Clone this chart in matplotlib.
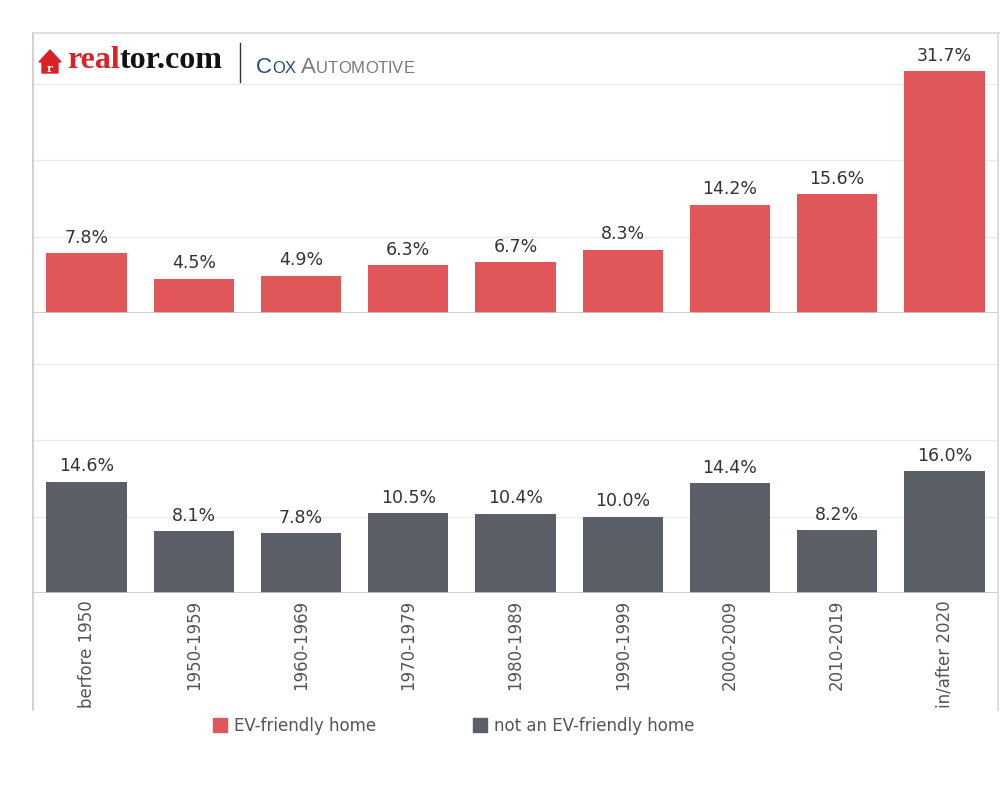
import matplotlib
matplotlib.use("Agg")
import matplotlib.pyplot as plt
from matplotlib.patches import Polygon, Rectangle
from matplotlib.lines import Line2D

categories = ["berfore 1950", "1950-1959", "1960-1969", "1970-1979", "1980-1989",
              "1990-1999", "2000-2009", "2010-2019", "in/after 2020"]
ev_friendly = [7.8, 4.5, 4.9, 6.3, 6.7, 8.3, 14.2, 15.6, 31.7]
not_ev_friendly = [14.6, 8.1, 7.8, 10.5, 10.4, 10.0, 14.4, 8.2, 16.0]
series_names = ["EV-friendly home", "not an EV-friendly home"]

RED = "#E15759"
GREY = "#5B5F68"
TXT = "#333333"
FONT = "DejaVu Sans"

W, H = 1000, 800
fig = plt.figure(figsize=(10, 8), dpi=100)

def fx(px):
    return px / W

def fy(py):
    return 1 - py / H

left, right = 33, 998
panels = [(33, 313, ev_friendly, RED), (313, 593, not_ev_friendly, GREY)]
x = list(range(len(categories)))
axes = []
for top, bottom, vals, col in panels:
    ax = fig.add_axes([fx(left), fy(bottom), fx(right - left), (bottom - top) / H])
    ax.bar(x, vals, width=0.75, color=col, zorder=3)
    ax.set_xlim(-0.5, len(categories) - 0.5)
    ax.set_ylim(0, 36.7)
    ax.set_yticks([10, 20, 30])
    ax.grid(axis="y", color="#ebebeb", linewidth=1, zorder=0)
    ax.tick_params(left=False, labelleft=False, bottom=False, length=0)
    for s in ax.spines.values():
        s.set_visible(False)
    ax.axhline(0, color="#c8c8c8", linewidth=1.2, zorder=4)
    for xi, v in zip(x, vals):
        ax.annotate(f"{v:.1f}%", (xi, v), xytext=(0, 4.5), textcoords="offset points",
                    ha="center", va="bottom", fontsize=12.5, color=TXT, family=FONT)
    axes.append(ax)

axes[0].set_xticks([])
axes[1].set_xticks(x)
axes[1].set_xticklabels(categories, rotation=90, fontsize=12, color="#555555", family=FONT,
                        va="top", ha="center")
axes[1].tick_params(axis="x", pad=5)

# outer frame
fig.add_artist(Line2D([fx(33), fx(33)], [fy(33), fy(710)], color="#c8c8c8", lw=1.2))
fig.add_artist(Line2D([fx(33), fx(1000)], [fy(33), fy(33)], color="#d8d8d8", lw=1.2))
fig.add_artist(Line2D([fx(998), fx(998)], [fy(33), fy(710)], color="#d8d8d8", lw=1.2))

# logo
house = Polygon([[fx(39), fy(62)], [fx(50), fy(50)], [fx(61), fy(62)], [fx(58), fy(62)],
                 [fx(58), fy(73)], [fx(42), fy(73)], [fx(42), fy(62)]],
                closed=True, color="#D92228", transform=fig.transFigure)
fig.add_artist(house)
fig.text(fx(50), fy(68), "r", color="white", fontsize=8, ha="center", va="center",
         family="DejaVu Serif", fontweight="bold")
t1 = fig.text(fx(67), fy(61), "real", color="#D92228", fontsize=23, family="Liberation Serif",
              fontweight="bold", ha="left", va="center")
fig.canvas.draw()
bb = t1.get_window_extent()
fig.text(bb.x1 / W, fy(61), "tor.com", color="#111111", fontsize=23, family="Liberation Serif",
         fontweight="bold", ha="left", va="center")
fig.add_artist(Line2D([fx(240), fx(240)], [fy(43), fy(82)], color="#333333", lw=1))

def small_caps(x0, y0, word, color, big=16, small=12):
    xs = x0
    for i, ch in enumerate(word):
        t = fig.text(xs / W, fy(y0), ch, color=color, fontsize=big if i == 0 else small,
                     family="Liberation Sans", ha="left", va="baseline")
        fig.canvas.draw()
        xs = t.get_window_extent().x1
    return xs

xe = small_caps(256, 73, "COX", "#234a78")
small_caps(xe + 5, 73, "AUTOMOTIVE", "#7a7a7a")

# legend
fig.add_artist(Rectangle((fx(213), fy(732)), 14 / W, 14 / H, color=RED, transform=fig.transFigure))
fig.text(fx(234), fy(726), series_names[0], fontsize=12, color="#555555", va="center", family=FONT)
fig.add_artist(Rectangle((fx(473), fy(732)), 14 / W, 14 / H, color=GREY, transform=fig.transFigure))
fig.text(fx(494), fy(726), series_names[1], fontsize=12, color="#555555", va="center", family=FONT)

fig.savefig("out.png", dpi=100, facecolor="white")
